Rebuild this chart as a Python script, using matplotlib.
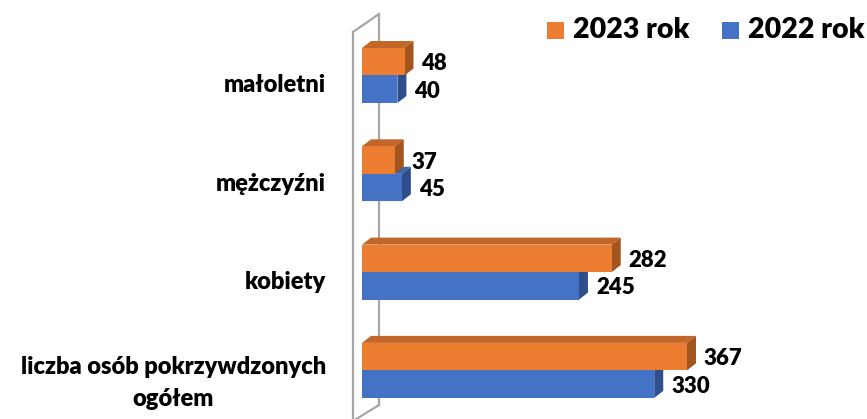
import numpy as np
import matplotlib.pyplot as plt
from matplotlib.patches import Polygon, Rectangle

categories = ['małoletni', 'mężczyźni', 'kobiety', 'liczba osób pokrzywdzonych\nogółem']
values_2023 = [48, 37, 282, 367]
values_2022 = [40, 45, 245, 330]
series_names = ['2023 rok', '2022 rok']

plt.rcParams['font.family'] = ['Lato', 'DejaVu Sans']
W = 'heavy'

c_front = {'2023': '#ED7D31', '2022': '#4472C4'}
c_top = {'2023': '#C2672A', '2022': '#3A63AB'}
c_side = {'2023': '#A3551F', '2022': '#2E4F8C'}

fig = plt.figure(figsize=(8.67, 4.19), dpi=100)
# axes from x=340px to the right edge; 0 lands at ~362px
ax = fig.add_axes([340 / 867, 0.0, 1 - 340 / 867, 1.0])

px_per_unit = 325 / 367.0
xmin = -22 / px_per_unit
xmax = (867 - 362) / px_per_unit
ax.set_xlim(xmin, xmax)
# categories spaced ~98.3 px, first centre at ~75.5 px from the top
spacing = 98.3
ax.set_ylim(-75.5 / spacing + 419 / spacing, -75.5 / spacing)

bar_h = 27.5 / spacing
dx = 9 / px_per_unit      # depth of the 3D bars
dy = -7 / spacing

def bar3d(y_top, val, key, z):
    y_bot = y_top + bar_h
    top = Polygon([(0, y_top), (val, y_top), (val + dx, y_top + dy), (dx, y_top + dy)],
                  closed=True, facecolor=c_top[key], edgecolor='none', zorder=z)
    side = Polygon([(val, y_top), (val, y_bot), (val + dx, y_bot + dy), (val + dx, y_top + dy)],
                   closed=True, facecolor=c_side[key], edgecolor='none', zorder=z)
    front = Rectangle((0, y_top), val, bar_h, facecolor=c_front[key], edgecolor='none', zorder=z + 0.1)
    for p in (top, side, front):
        ax.add_patch(p)

# wall outline (side wall of the 3D chart)
wall = dict(color='#A6A6A6', lw=1.6, zorder=1, clip_on=False)
wx0 = -9 / px_per_unit
wx1 = 17 / px_per_unit
y_at = lambda p: (p - 75.5) / spacing
ax.plot([wx0, wx0], [y_at(32), y_at(425)], **wall)
ax.plot([wx0, wx1], [y_at(32), y_at(14)], **wall)
ax.plot([wx1, wx1], [y_at(14), y_at(405)], **wall)
ax.plot([wx1, wx0], [y_at(405), y_at(421)], **wall)

for i, (v23, v22) in enumerate(zip(values_2023, values_2022)):
    y_o = i - bar_h
    y_b = i
    bar3d(y_b, v22, '2022', 2 + i * 2)
    bar3d(y_o, v23, '2023', 3 + i * 2)
    ax.text(v23 + dx + 8 / px_per_unit, y_o + bar_h / 2 + 0.02, str(v23),
            ha='left', va='center', fontsize=16, fontweight=W, zorder=20)
    ax.text(v22 + dx + 8 / px_per_unit, y_b + bar_h / 2 + 0.02, str(v22),
            ha='left', va='center', fontsize=16, fontweight=W, zorder=20)

ax.set_yticks(np.arange(len(categories)) + np.array([0.08, 0.08, 0.08, 0.06]))
ax.set_yticklabels(categories, fontsize=17, fontweight=W, multialignment='center')
ax.get_yticklabels()[-1].set_linespacing(1.55)
ax.tick_params(axis='y', length=0, pad=10)
ax.set_xticks([])
for s in ax.spines.values():
    s.set_visible(False)
ax.patch.set_alpha(0)

# legend drawn by hand: square + label per series
leg_x = [547, 722]
for x0, name, key in zip(leg_x, series_names, ['2023', '2022']):
    fig.patches.append(Rectangle((x0 / 867, 1 - 39 / 419), 17 / 867, 17 / 419,
                                 transform=fig.transFigure, facecolor=c_front[key],
                                 edgecolor='none'))
    fig.text((x0 + 26) / 867, 1 - 30 / 419, name, ha='left', va='center',
             fontsize=20.5, fontweight=W)

fig.savefig('out.png', dpi=100)
